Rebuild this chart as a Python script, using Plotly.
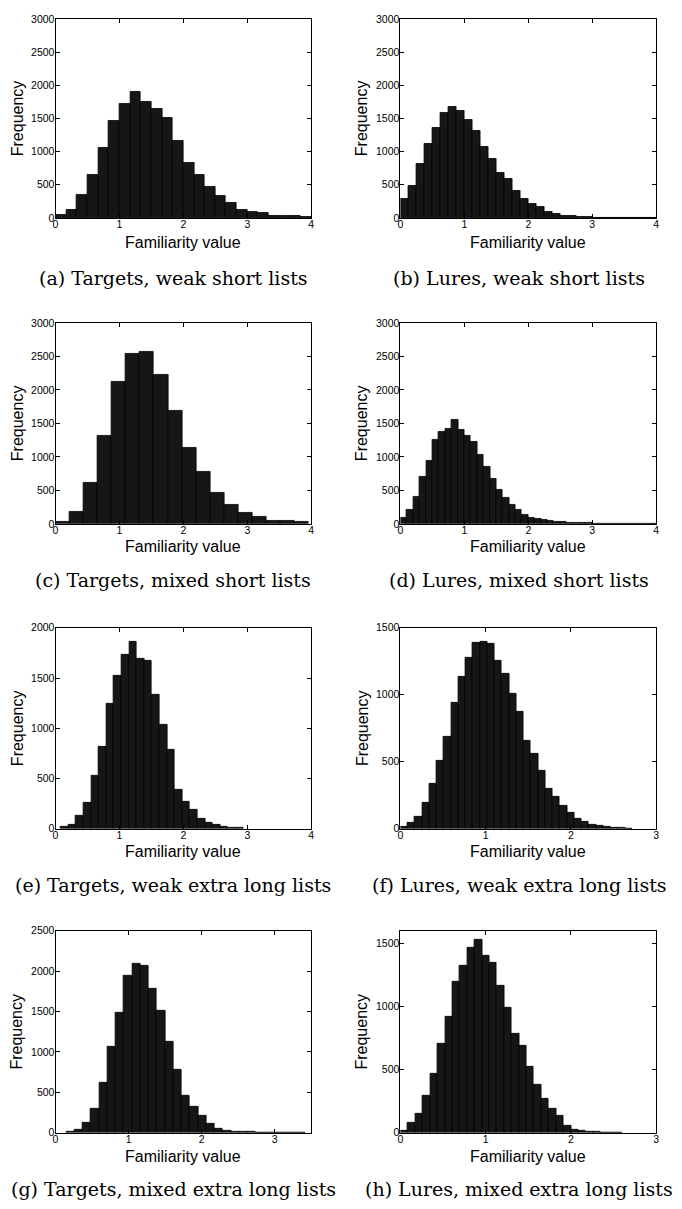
import plotly.graph_objects as go

W, H = 682, 1209

# ---------------- data (histogram counts) ----------------
a_start, a_width = 0.0, 4 / 24
a_counts = [40, 120, 340, 650, 1055, 1463, 1720, 1895, 1756, 1637, 1507, 1154,
            836, 650, 463, 328, 224, 120, 85, 75, 30, 35, 30, 15]

b_start, b_width = 0.0, 0.125
b_counts = [290, 488, 811, 1119, 1363, 1577, 1667, 1607, 1478, 1318, 1075, 886,
            672, 587, 403, 289, 214, 164, 95, 60, 35, 25, 15, 12, 6, 5, 3, 3, 2, 2, 1, 1]

c_start, c_width = 0.0, 0.22
c_counts = [30, 182, 610, 1313, 2125, 2543, 2572, 2228, 1682, 1136, 772, 457,
            280, 157, 105, 49, 49, 30]

d_start, d_width = 0.0, 0.1
d_counts = [90, 215, 400, 700, 940, 1260, 1380, 1420, 1550, 1400, 1320, 1230,
            1030, 850, 670, 510, 395, 290, 205, 140, 90, 75, 55, 40, 30, 25, 20,
            12, 10, 8, 6, 5, 5, 4, 3, 3, 2, 2, 1, 1]

e_start, e_width = 0.08, 0.119
e_counts = [16, 36, 128, 260, 532, 811, 1245, 1527, 1731, 1862, 1691, 1672, 1330,
            1031, 785, 384, 269, 187, 95, 62, 36, 23, 13, 8]

f_start, f_width = 0.0, 0.085
f_counts = [12, 42, 91, 195, 337, 510, 687, 941, 1138, 1278, 1385, 1397, 1379, 1254,
            1155, 1008, 872, 658, 559, 436, 300, 239, 170, 123, 71, 49, 30, 22, 17, 7, 5, 2]

g_start, g_width = 0.144, 0.113
g_counts = [8, 33, 123, 294, 613, 1070, 1487, 1949, 2092, 2071, 1777, 1511, 1123,
            776, 457, 319, 204, 110, 45, 29, 16, 12, 8, 5, 4, 3, 2, 2, 1]

h_start, h_width = 0.0, 0.087
h_counts = [18, 76, 149, 293, 465, 703, 920, 1194, 1325, 1469, 1527, 1403, 1343,
            1168, 990, 784, 690, 523, 384, 267, 188, 136, 57, 26, 13, 8, 5, 3, 2, 1]

captions = ["(a) Targets, weak short lists", "(b) Lures, weak short lists",
            "(c) Targets, mixed short lists", "(d) Lures, mixed short lists",
            "(e) Targets, weak extra long lists", "(f) Lures, weak extra long lists",
            "(g) Targets, mixed extra long lists", "(h) Lures, mixed extra long lists"]

x_ranges = [[0, 4], [0, 4], [0, 4], [0, 4], [0, 4], [0, 3], [0, 3.5], [0, 3]]
y_ranges = [[0, 3000], [0, 3000], [0, 3000], [0, 3000], [0, 2000], [0, 1500], [0, 2500], [0, 1600]]
x_ticks = [[0, 1, 2, 3, 4]] * 5 + [[0, 1, 2, 3], [0, 1, 2, 3], [0, 1, 2, 3]]
y_ticks = [[0, 500, 1000, 1500, 2000, 2500, 3000]] * 4 + [[0, 500, 1000, 1500, 2000],
           [0, 500, 1000, 1500], [0, 500, 1000, 1500, 2000, 2500], [0, 500, 1000, 1500]]

panels = [(a_start, a_width, a_counts), (b_start, b_width, b_counts),
          (c_start, c_width, c_counts), (d_start, d_width, d_counts),
          (e_start, e_width, e_counts), (f_start, f_width, f_counts),
          (g_start, g_width, g_counts), (h_start, h_width, h_counts)]

# ---------------- layout geometry (pixels) ----------------
cols_px = [(53, 311), (401, 659)]
rows_px = [(13, 214), (320, 523), (628, 831), (934, 1138)]
caption_y = [275, 580, 888, 1195]
xlabel_y = [239, 546, 854, 1162]
caption_x = [172, 521]

SANS = "Liberation Sans, Arial, sans-serif"
SERIF = "DejaVu Serif, serif"

fig = go.Figure()
annotations = []
layout = {}

for i, (start, width, counts) in enumerate(panels):
    r, c = divmod(i, 2)
    sfx = "" if i == 0 else str(i + 1)
    centers = [start + width * (k + 0.5) for k in range(len(counts))]
    fig.add_trace(go.Bar(
        x=centers, y=counts, width=width,
        marker=dict(color="#161616", line=dict(color="#000000", width=0.8)),
        xaxis="x" + sfx, yaxis="y" + sfx, showlegend=False, hoverinfo="skip"))

    x0, x1 = cols_px[c]
    y0, y1 = rows_px[r]
    common = dict(showline=True, linecolor="black", linewidth=1, mirror="ticks",
                  ticks="inside", ticklen=4, tickwidth=1, tickcolor="black",
                  showgrid=False, zeroline=False,
                  tickfont=dict(family=SANS, size=10.5, color="black"))
    layout["xaxis" + sfx] = dict(domain=[x0 / W, x1 / W], range=x_ranges[i],
                                 tickvals=x_ticks[i], anchor="y" + sfx,
                                 tickformat="d", ticklabelstandoff=-3, **common)
    layout["yaxis" + sfx] = dict(domain=[1 - y1 / H, 1 - y0 / H], range=y_ranges[i],
                                 tickvals=y_ticks[i], anchor="x" + sfx,
                                 tickformat="d", ticklabelstandoff=-2, **common)

    annotations.append(dict(text="Frequency", textangle=-90, x=(x0 - 39) / W,
                            y=1 - (y0 + y1) / 2 / H, xref="paper", yref="paper",
                            showarrow=False, xanchor="center", yanchor="middle",
                            font=dict(family=SANS, size=16, color="black")))
    annotations.append(dict(text="Familiarity value", x=(x0 + x1) / 2 / W,
                            y=1 - xlabel_y[r] / H, xref="paper", yref="paper",
                            showarrow=False, xanchor="center", yanchor="middle",
                            font=dict(family=SANS, size=16, color="black")))
    annotations.append(dict(text=captions[i], x=caption_x[c] / W,
                            y=1 - caption_y[r] / H, xref="paper", yref="paper",
                            showarrow=False, xanchor="center", yanchor="middle",
                            font=dict(family=SERIF, size=19, color="black")))

fig.update_layout(width=W, height=H, margin=dict(l=0, r=0, t=0, b=0),
                  paper_bgcolor="white", plot_bgcolor="white", bargap=0,
                  annotations=annotations, **layout)

fig.write_html("out.html")
